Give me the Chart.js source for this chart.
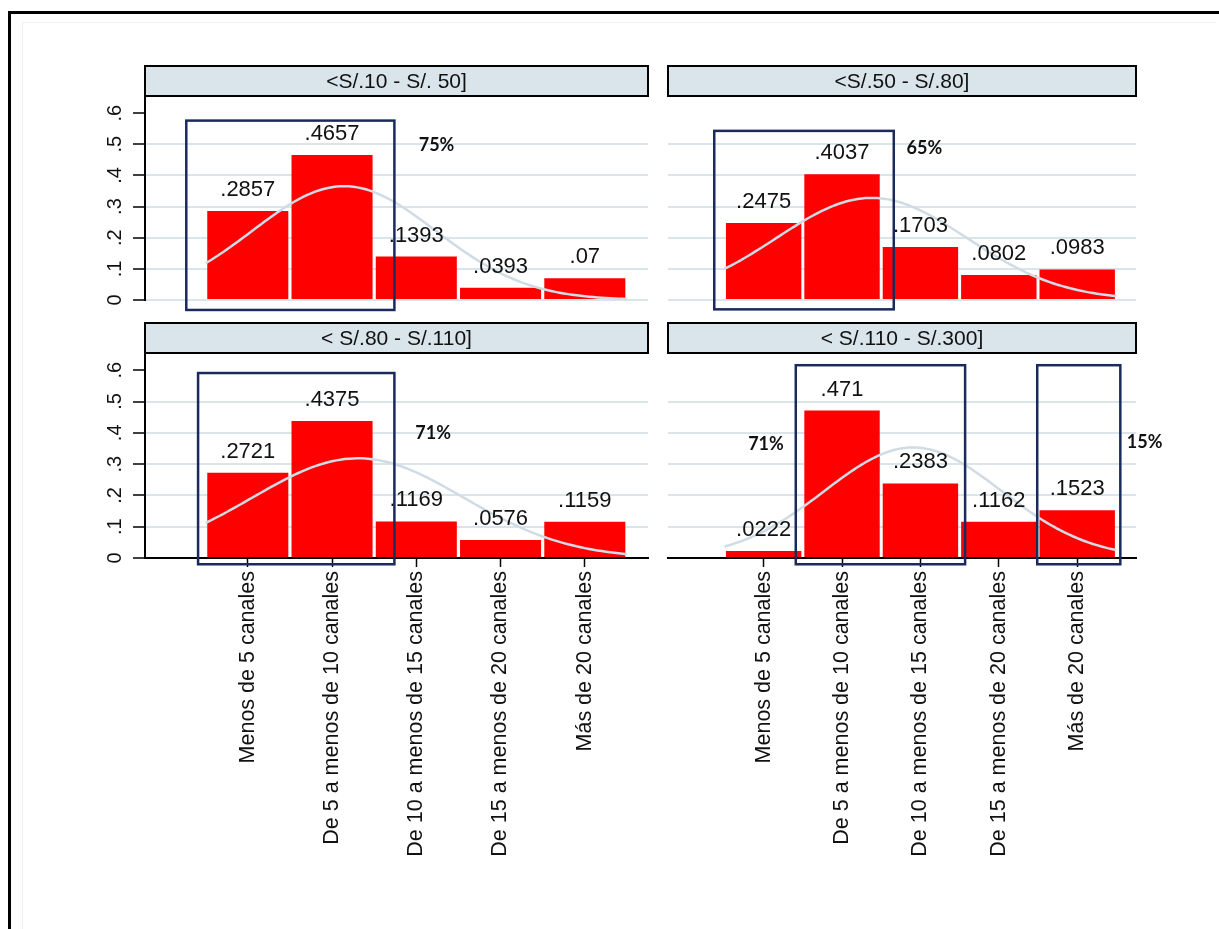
<!DOCTYPE html>
<html>
<head>
<meta charset="utf-8">
<script src="https://cdn.jsdelivr.net/npm/chart.js@4"></script>
<style>
  html, body { margin: 0; padding: 0; background: #fff; }
  body { width: 1219px; height: 929px; overflow: hidden; position: relative; }
  #frame { position: absolute; left: 8px; top: 11px; right: -20px; bottom: -20px;
           border-left: 3px solid #000; border-top: 3px solid #000; }
  #inner { position: absolute; left: 22px; top: 22px; right: 3px; bottom: -20px;
           border-left: 1px solid #efefef; border-top: 1px solid #efefef; }
  canvas { position: absolute; }
</style>
</head>
<body>
<div id="frame"></div>
<div id="inner"></div>
<canvas id="panelA" width="610" height="260" style="left:60px;top:60px"></canvas>
<canvas id="panelB" width="540" height="260" style="left:660px;top:60px"></canvas>
<canvas id="panelC" width="610" height="600" style="left:60px;top:317px"></canvas>
<canvas id="panelD" width="540" height="600" style="left:660px;top:317px"></canvas>
<script>
// Number of TV channels, share of households by monthly spending bracket
const categories = [
  "Menos de 5 canales",
  "De 5 a menos de 10 canales",
  "De 10 a menos de 15 canales",
  "De 15 a menos de 20 canales",
  "Más de 20 canales"
];
const panelTitles = ["<S/.10 - S/. 50]", "<S/.50 - S/.80]", "< S/.80 - S/.110]", "< S/.110 - S/.300]"];
const shares10to50   = [0.2857, 0.4657, 0.1393, 0.0393, 0.07];
const shares50to80   = [0.2475, 0.4037, 0.1703, 0.0802, 0.0983];
const shares80to110  = [0.2721, 0.4375, 0.1169, 0.0576, 0.1159];
const shares110to300 = [0.0222, 0.471, 0.2383, 0.1162, 0.1523];
const yTickValues = [0, 0.1, 0.2, 0.3, 0.4, 0.5, 0.6];
const yTickLabels = ["0", ".1", ".2", ".3", ".4", ".5", ".6"];

const FONT = '"Liberation Sans", Arial, sans-serif';
const BAR_RED = '#ff0000';
const GRID = '#dae4eb';
const CURVE = '#d0dce5';
const BOX = '#1b2a5c';

// Normal density fitted to the category distribution (codes 1..5), over the bar span
function normalCurve(shares) {
  const total = shares.reduce((a, b) => a + b, 0);
  let mean = 0, sq = 0;
  shares.forEach((p, i) => { mean += p * (i + 1); sq += p * (i + 1) * (i + 1); });
  mean /= total; sq /= total;
  const sd = Math.sqrt(sq - mean * mean);
  const pts = [];
  for (let k = 0; k <= 100; k++) {
    const x = 0.5 + k * 0.05;
    const z = (x - mean) / sd;
    pts.push({ x, y: Math.exp(-0.5 * z * z) / (sd * Math.sqrt(2 * Math.PI)) });
  }
  return pts;
}

const fmtShare = v => String(v).replace(/^0(?=\.)/, '');

// Header strip above each panel
const headerPlugin = {
  id: 'header',
  afterDraw(chart, args, opts) {
    const { ctx, chartArea: a } = chart;
    ctx.save();
    ctx.fillStyle = '#d9e4eb';
    ctx.fillRect(a.left, a.top - 30, a.right - a.left, 30);
    ctx.strokeStyle = '#000';
    ctx.lineWidth = 2;
    ctx.strokeRect(a.left, a.top - 30, a.right - a.left, 30);
    ctx.fillStyle = '#111';
    ctx.font = '21px ' + FONT;
    ctx.textAlign = 'center';
    ctx.textBaseline = 'middle';
    ctx.fillText(opts.text, (a.left + a.right) / 2, a.top - 14);
    ctx.restore();
  }
};

// Vertical tick labels on the left axis
const yLabelPlugin = {
  id: 'yLabels',
  afterDraw(chart, args, opts) {
    if (!opts.show) return;
    const { ctx } = chart;
    const ys = chart.scales.y;
    ctx.save();
    ctx.fillStyle = '#111';
    ctx.font = '20px ' + FONT;
    ctx.textAlign = 'center';
    ctx.textBaseline = 'middle';
    ys.ticks.forEach((t, i) => {
      const py = ys.getPixelForValue(t.value);
      ctx.save();
      ctx.translate(ys.right - 30, py);
      ctx.rotate(-Math.PI / 2);
      ctx.fillText(yTickLabels[i], 0, 0);
      ctx.restore();
    });
    ctx.restore();
  }
};

// Share printed above each bar
const valueLabelPlugin = {
  id: 'valueLabels',
  afterDatasetsDraw(chart) {
    const { ctx } = chart;
    const meta = chart.getDatasetMeta(0);
    const data = chart.data.datasets[0].data;
    ctx.save();
    ctx.fillStyle = '#111';
    ctx.font = '22px ' + FONT;
    ctx.textAlign = 'center';
    ctx.textBaseline = 'middle';
    meta.data.forEach((bar, i) => {
      ctx.fillText(fmtShare(data[i].y), bar.x, bar.y - 21);
    });
    ctx.restore();
  }
};

// Outlined groups of bars with their combined share
const groupPlugin = {
  id: 'groups',
  afterDraw(chart, args, opts) {
    const { ctx } = chart;
    const xs = chart.scales.x, ys = chart.scales.y;
    const data = chart.data.datasets[0].data;
    ctx.save();
    (opts.groups || []).forEach(g => {
      const x0 = xs.getPixelForValue(g.x0), x1 = xs.getPixelForValue(g.x1);
      const y0 = ys.getPixelForValue(g.y0), y1 = ys.getPixelForValue(g.y1);
      ctx.strokeStyle = BOX;
      ctx.lineWidth = 2.5;
      ctx.strokeRect(x0, y1, x1 - x0, y0 - y1);
      let sum = 0;
      for (let c = g.from; c <= g.to; c++) sum += data[c - 1].y;
      ctx.fillStyle = '#111';
      ctx.font = 'bold 18px Lato, "Open Sans", sans-serif';
      ctx.textAlign = 'center';
      ctx.textBaseline = 'middle';
      ctx.fillText(Math.round(sum * 100) + '%', xs.getPixelForValue(g.tx), ys.getPixelForValue(g.ty));
    });
    ctx.restore();
  }
};

function makePanel(canvasId, title, shares, leftCol, bottomRow, groups, padding) {
  const bars = shares.map((v, i) => ({ x: i + 1, y: v }));
  return new Chart(document.getElementById(canvasId), {
    data: {
      datasets: [
        { type: 'bar', data: bars, backgroundColor: BAR_RED, borderWidth: 0,
          barPercentage: 0.962, categoryPercentage: 1, order: 2 },
        { type: 'line', data: normalCurve(shares), borderColor: CURVE, borderWidth: 2.5,
          pointRadius: 0, tension: 0, fill: false, order: 1 }
      ]
    },
    options: {
      responsive: false,
      animation: false,
      devicePixelRatio: 1,
      layout: { padding },
      plugins: {
        legend: { display: false },
        tooltip: { enabled: false },
        header: { text: title },
        yLabels: { show: leftCol },
        groups: { groups }
      },
      scales: {
        x: {
          type: 'linear', min: -0.22, max: 5.75, display: bottomRow, offset: false,
          afterBuildTicks: s => { s.ticks = categories.map((c, i) => ({ value: i + 1 })); },
          afterFit: s => { if (bottomRow) s.height = 359; },
          ticks: {
            autoSkip: false, minRotation: 90, maxRotation: 90, padding: 4,
            color: '#111', font: { family: FONT, size: 21.5 },
            callback: (v, i) => categories[i]
          },
          grid: { offset: false, drawOnChartArea: false, drawTicks: true, tickLength: 9,
                  color: '#000', tickColor: '#000', tickWidth: 1.5 },
          border: { display: true, color: '#000', width: 2 }
        },
        y: {
          type: 'linear', min: 0, max: 0.655,
          afterBuildTicks: s => { s.ticks = yTickValues.map(v => ({ value: v })); },
          afterFit: s => { s.width = leftCol ? 85 : 0; },
          ticks: { display: false },
          grid: {
            color: c => (c.tick && c.tick.value > 0.55) ? 'rgba(0,0,0,0)' : GRID,
            lineWidth: 2,
            drawTicks: leftCol, tickLength: 12, tickColor: '#000', tickWidth: 1.5
          },
          border: { display: leftCol, color: '#000', width: 2 }
        }
      }
    },
    plugins: [headerPlugin, yLabelPlugin, valueLabelPlugin, groupPlugin]
  });
}

makePanel('panelA', panelTitles[0], shares10to50, true, false,
  [{ from: 1, to: 2, x0: 0.27, x1: 2.74, y0: -0.032, y1: 0.576, tx: 3.24, ty: 0.498 }],
  { left: 0, right: 22, top: 36, bottom: 20 });

makePanel('panelB', panelTitles[1], shares50to80, false, false,
  [{ from: 1, to: 2, x0: 0.37, x1: 2.66, y0: -0.03, y1: 0.543, tx: 3.05, ty: 0.489 }],
  { left: 8, right: 64, top: 36, bottom: 20 });

makePanel('panelC', panelTitles[2], shares80to110, true, true,
  [{ from: 1, to: 2, x0: 0.41, x1: 2.74, y0: -0.02, y1: 0.591, tx: 3.2, ty: 0.398 }],
  { left: 0, right: 22, top: 36, bottom: 0 });

makePanel('panelD', panelTitles[3], shares110to300, false, true,
  [{ from: 2, to: 3, x0: 1.41, x1: 3.57, y0: -0.02, y1: 0.616, tx: 1.03, ty: 0.363 },
   { from: 5, to: 5, x0: 4.49, x1: 5.55, y0: -0.02, y1: 0.616, tx: 5.86, ty: 0.37 }],
  { left: 8, right: 64, top: 36, bottom: 0 });
</script>
</body>
</html>
